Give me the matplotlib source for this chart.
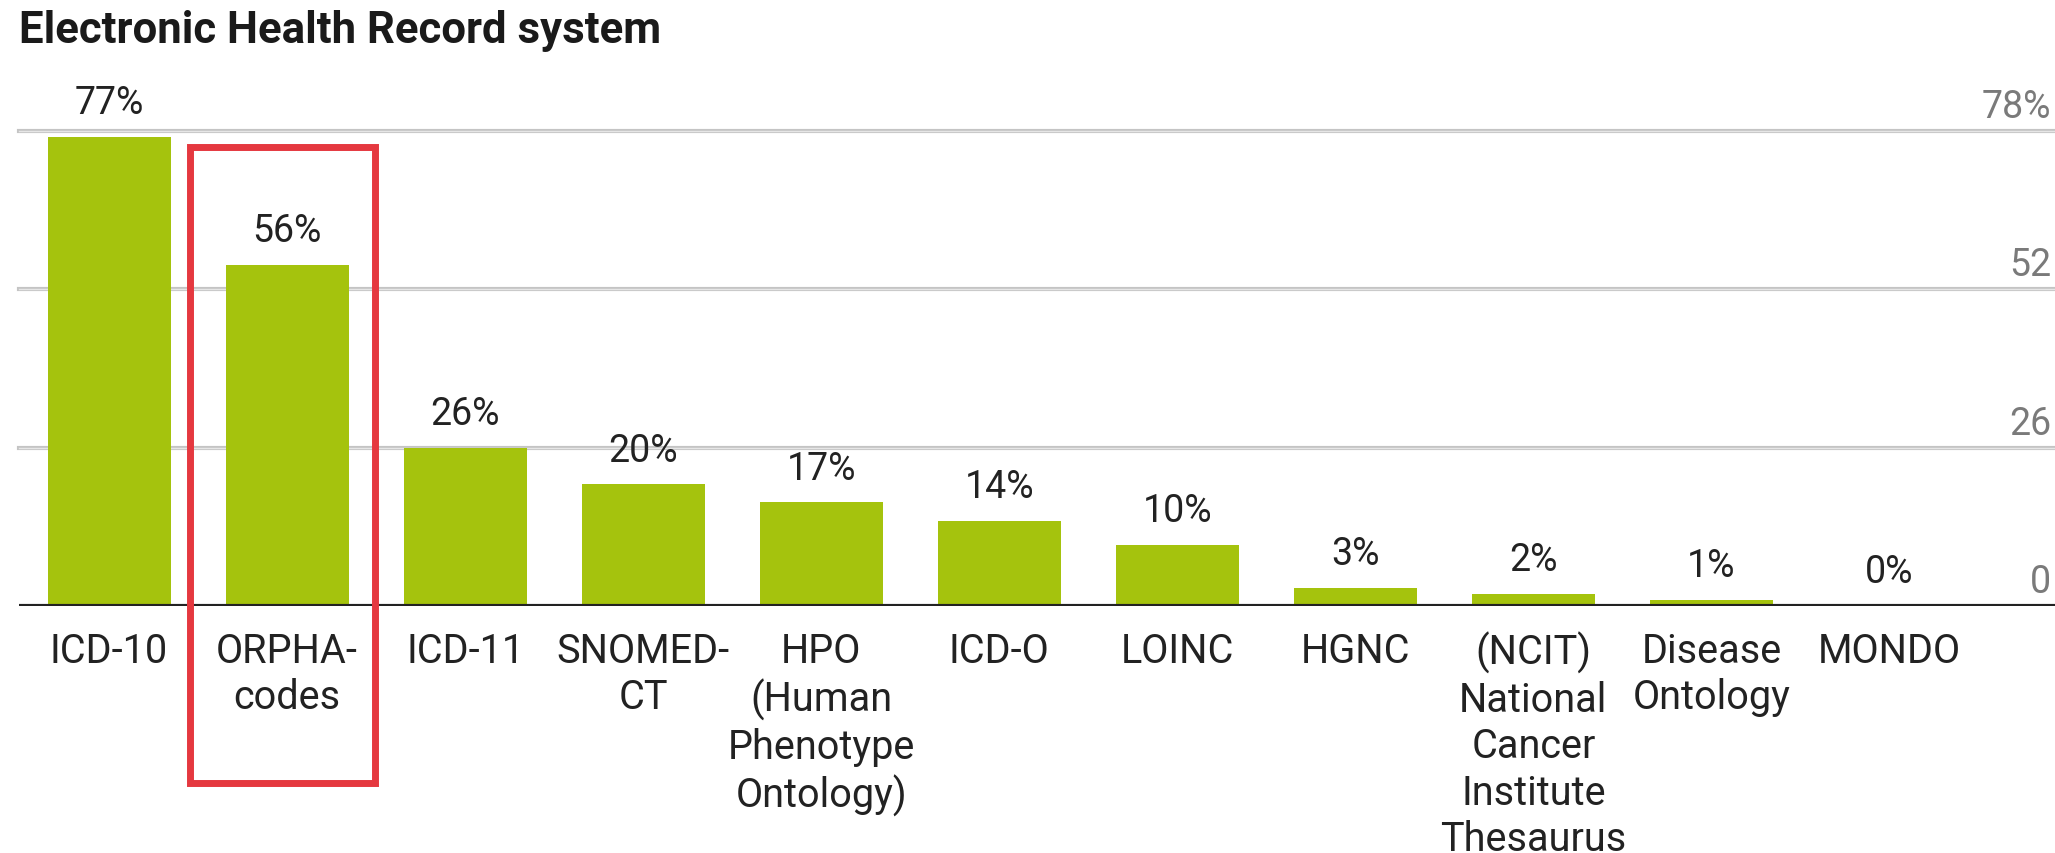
import matplotlib
matplotlib.use("Agg")
import matplotlib.pyplot as plt
from matplotlib.patches import Rectangle
from matplotlib.transforms import blended_transform_factory

plt.rcParams['font.family'] = ['Roboto', 'DejaVu Sans']

# data
title = "Electronic Health Record system"
categories = [
    "ICD-10",
    "ORPHA-\ncodes",
    "ICD-11",
    "SNOMED-\nCT",
    "HPO\n(Human\nPhenotype\nOntology)",
    "ICD-O",
    "LOINC",
    "HGNC",
    "(NCIT)\nNational\nCancer\nInstitute\nThesaurus",
    "Disease\nOntology",
    "MONDO",
]
values = [77, 56, 26, 20, 17, 14, 10, 3, 2, 1, 0]
axis_ticks = [0, 26, 52, 78]
axis_tick_labels = ["0", "26", "52", "78%"]
highlight_index = 1

bar_color = "#a5c30d"
W, H, DPI = 2055, 854, 100

fig = plt.figure(figsize=(W / DPI, H / DPI), dpi=DPI)
ax = fig.add_axes([19 / W, (H - 607) / H, (W - 19) / W, (607 - 132) / H])

x = list(range(len(categories)))
ax.bar(x, values, width=0.69, color=bar_color, zorder=3)

ax.set_xlim(-0.506, 10.93)
ax.set_ylim(0, 78)
for s in ax.spines.values():
    s.set_visible(False)
ax.set_yticks([])
ax.set_xticks([])

# gridlines (light double line look)
for t in axis_ticks[1:]:
    ax.axhline(t, color="#c4c4c4", lw=3, zorder=1, clip_on=False)
    ax.axhline(t, color="#e6e6e6", lw=1, zorder=1, clip_on=False)
ax.axhline(0, color="#222222", lw=3, zorder=4)

# right-hand axis labels
trans = blended_transform_factory(ax.transAxes, ax.transData)
for t, lab in zip(axis_ticks, axis_tick_labels):
    ax.annotate(lab, xy=(0.998, t), xycoords=trans, xytext=(0, 10),
                textcoords="offset points", ha="right", va="baseline",
                fontsize=27, color="#7a7a7a", annotation_clip=False)

# value labels above bars
for xi, v in zip(x, values):
    ax.annotate(f"{v}%", xy=(xi, v), xytext=(0, 17), textcoords="offset points",
                ha="center", va="baseline", fontsize=27, color="#222222", zorder=5)

# category labels under bars
for xi, lab in zip(x, categories):
    ax.annotate(lab, xy=(xi, 0), xytext=(0, -18), textcoords="offset points",
                ha="center", va="top", fontsize=28.5, color="#222222",
                linespacing=1.23, annotation_clip=False)

# red highlight box around ORPHA-codes
ax.add_patch(Rectangle((highlight_index - 0.545, -29.1), 1.04, 104.5,
                       fill=False, edgecolor="#e5383f", lw=5, zorder=6, clip_on=False))

fig.text(19 / W, 1 - 31 / H, title, fontsize=31.5, fontweight="bold",
         color="#1a1a1a", va="center", ha="left")

fig.savefig("out.png", dpi=DPI)
